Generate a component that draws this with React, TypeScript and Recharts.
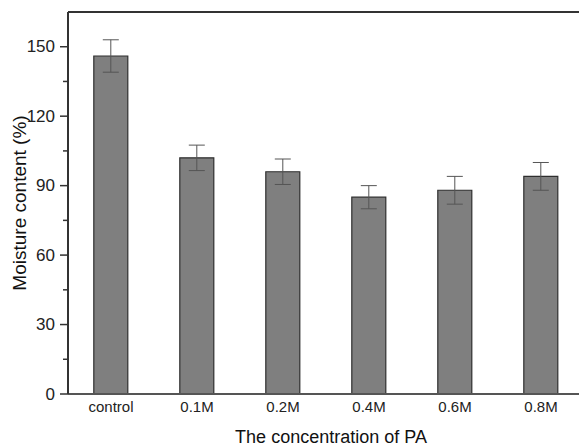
import React from 'react';
import { BarChart, Bar, XAxis, YAxis, CartesianGrid, ErrorBar, ReferenceLine, Label } from 'recharts';

const categories = ['control', '0.1M', '0.2M', '0.4M', '0.6M', '0.8M'];
const moisture = [146, 102, 96, 85, 88, 94];
const moistureErr = [7, 5.5, 5.5, 5, 6, 6];
const yTicks = [0, 15, 30, 45, 60, 75, 90, 105, 120, 135, 150];
const majorTicks = [0, 30, 60, 90, 120, 150];
const yMax = 165;

const data = categories.map((c, i) => ({ name: c, value: moisture[i], err: moistureErr[i] }));

const FONT = '"Liberation Sans", Arial, sans-serif';

const YTick = (props: any) => {
  const { x, y, payload } = props;
  const major = majorTicks.includes(payload.value);
  return (
    <g>
      <line x1={x - (major ? 8 : 5)} x2={x} y1={y} y2={y} stroke="#333" strokeWidth={1.5} />
      {major && (
        <text
          x={x - 13}
          y={y}
          textAnchor="end"
          dominantBaseline="central"
          fill="#222"
          style={{ fontSize: 17, fontFamily: FONT }}
        >
          {payload.value}
        </text>
      )}
    </g>
  );
};

export default function App() {
  return (
    <div style={{ position: 'absolute', left: 0, top: 0, width: 579, height: 446, overflow: 'hidden', background: '#fff' }}>
      <BarChart width={600} height={446} data={data} margin={{ top: 12, right: 16, left: 0, bottom: 0 }} barCategoryGap="30%">
        <YAxis yAxisId="grid" hide domain={[0, yMax]} ticks={majorTicks} interval={0} width={0} />
        <CartesianGrid yAxisId="grid" vertical={false} stroke="#a8a8a8" strokeDasharray="2.5 2" />
        <XAxis
          dataKey="name"
          height={52}
          tickLine={false}
          tickSize={0}
          tickMargin={7}
          axisLine={{ stroke: '#555', strokeWidth: 2 }}
          tick={{ fontSize: 15, fill: '#222', fontFamily: FONT }}
          interval={0}
        >
          <Label value="The concentration of PA" position="insideBottom" offset={3} dx={5} style={{ fontSize: 18, fill: '#111', fontFamily: FONT }} />
        </XAxis>
        <YAxis
          yAxisId="left"
          width={68}
          domain={[0, yMax]}
          ticks={yTicks}
          interval={0}
          tickSize={0}
          tickMargin={0}
          tickLine={false}
          axisLine={{ stroke: '#333', strokeWidth: 2 }}
          tick={<YTick />}
        >
          <Label value="Moisture content (%)" angle={-90} position="insideLeft" offset={19} style={{ fontSize: 19, fill: '#111', fontFamily: FONT, textAnchor: 'middle' }} />
        </YAxis>
        <ReferenceLine yAxisId="left" y={yMax} stroke="#333" strokeWidth={2} />
        <Bar yAxisId="left" dataKey="value" fill="#7f7f7f" stroke="#2e2e2e" strokeWidth={1.2} isAnimationActive={false}>
          <ErrorBar dataKey="err" width={8} stroke="#555" strokeWidth={1} />
        </Bar>
      </BarChart>
    </div>
  );
}
